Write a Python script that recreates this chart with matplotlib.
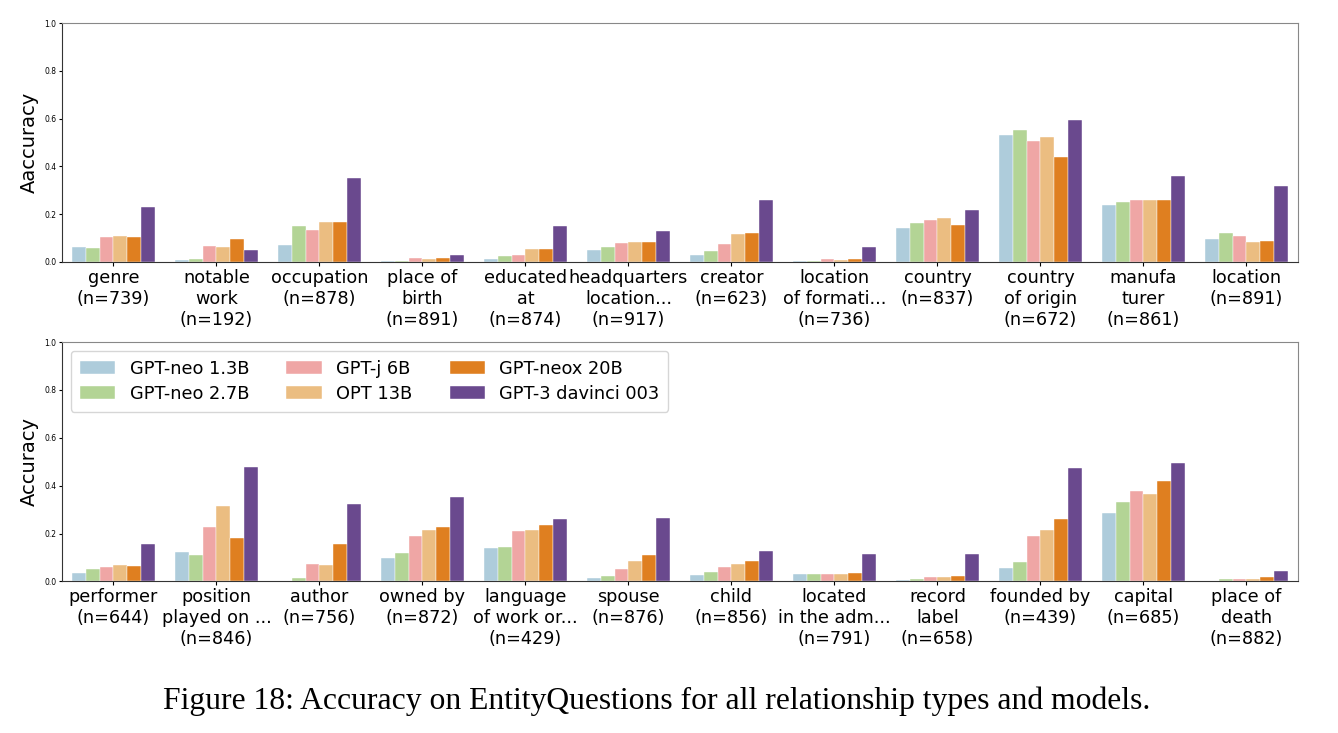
import matplotlib
matplotlib.use("Agg")
import matplotlib.pyplot as plt
import numpy as np
import seaborn as sns

models = ["GPT-neo 1.3B", "GPT-neo 2.7B", "GPT-j 6B", "OPT 13B", "GPT-neox 20B", "GPT-3 davinci 003"]

top_labels = ["genre\n(n=739)", "notable\nwork\n(n=192)", "occupation\n(n=878)", "place of\nbirth\n(n=891)",
              "educated\nat\n(n=874)", "headquarters\nlocation...\n(n=917)", "creator\n(n=623)",
              "location\nof formati...\n(n=736)", "country\n(n=837)", "country\nof origin\n(n=672)",
              "manufa\nturer\n(n=861)", "location\n(n=891)"]
bot_labels = ["performer\n(n=644)", "position\nplayed on ...\n(n=846)", "author\n(n=756)", "owned by\n(n=872)",
              "language\nof work or...\n(n=429)", "spouse\n(n=876)", "child\n(n=856)",
              "located\nin the adm...\n(n=791)", "record\nlabel\n(n=658)", "founded by\n(n=439)",
              "capital\n(n=685)", "place of\ndeath\n(n=882)"]

# one list per model, one value per relation
top_neo13 = [0.063, 0.008, 0.072, 0.002, 0.011, 0.049, 0.028, 0.003, 0.142, 0.533, 0.239, 0.096]
top_neo27 = [0.060, 0.013, 0.149, 0.005, 0.025, 0.061, 0.045, 0.006, 0.163, 0.552, 0.252, 0.120]
top_j6 = [0.103, 0.067, 0.134, 0.016, 0.029, 0.078, 0.075, 0.013, 0.175, 0.505, 0.259, 0.107]
top_opt13 = [0.108, 0.061, 0.167, 0.012, 0.053, 0.083, 0.118, 0.008, 0.184, 0.523, 0.261, 0.083]
top_neox20 = [0.106, 0.097, 0.167, 0.017, 0.054, 0.083, 0.120, 0.013, 0.154, 0.438, 0.259, 0.088]
top_davinci = [0.231, 0.050, 0.352, 0.031, 0.150, 0.129, 0.260, 0.064, 0.218, 0.595, 0.360, 0.318]

bot_neo13 = [0.036, 0.125, 0.004, 0.097, 0.138, 0.013, 0.028, 0.031, 0.007, 0.057, 0.287, 0.003]
bot_neo27 = [0.052, 0.109, 0.014, 0.121, 0.143, 0.025, 0.040, 0.033, 0.010, 0.082, 0.334, 0.011]
bot_j6 = [0.060, 0.227, 0.072, 0.192, 0.210, 0.054, 0.060, 0.033, 0.017, 0.192, 0.378, 0.010]
bot_opt13 = [0.067, 0.316, 0.067, 0.216, 0.213, 0.085, 0.071, 0.031, 0.019, 0.213, 0.364, 0.011]
bot_neox20 = [0.063, 0.180, 0.157, 0.227, 0.234, 0.111, 0.084, 0.036, 0.025, 0.260, 0.418, 0.017]
bot_davinci = [0.156, 0.480, 0.325, 0.352, 0.259, 0.267, 0.128, 0.116, 0.116, 0.476, 0.493, 0.043]

top_vals = [top_neo13, top_neo27, top_j6, top_opt13, top_neox20, top_davinci]
bot_vals = [bot_neo13, bot_neo27, bot_j6, bot_opt13, bot_neox20, bot_davinci]

paired = sns.color_palette("Paired", 10)
colors = [sns.desaturate(paired[i], 0.75) for i in [0, 2, 4, 6, 7, 9]]

fig = plt.figure(figsize=(13.38, 7.33), dpi=100)
ax_top = fig.add_axes([0.0463, 0.6426, 0.9237, 0.326])
ax_bot = fig.add_axes([0.0463, 0.2067, 0.9237, 0.3267])


def draw_panel(ax, vals, labels, ylabel):
    n = len(labels)
    x = np.arange(n)
    w = 0.8 / len(models)
    for i, (m, v) in enumerate(zip(models, vals)):
        ax.bar(x - 0.4 + w * (i + 0.5), v, width=w, color=colors[i], label=m,
               edgecolor="white", linewidth=0.3)
    ax.set_xlim(-0.5, n - 0.5)
    ax.set_ylim(0, 1.0)
    ax.set_yticks([0.0, 0.2, 0.4, 0.6, 0.8, 1.0])
    ax.set_yticklabels(["0.0", "0.2", "0.4", "0.6", "0.8", "1.0"])
    ax.tick_params(axis="y", labelsize=5.5, length=2.5, pad=1.5)
    ax.set_xticks(x)
    ax.set_xticklabels(labels, fontsize=12.7, linespacing=1.2)
    ax.tick_params(axis="x", length=3, pad=2)
    ax.set_ylabel(ylabel, fontsize=14, labelpad=4)
    for s in ["top", "right"]:
        ax.spines[s].set_color("#888888")
    for s in ["left", "bottom"]:
        ax.spines[s].set_color("#333333")


draw_panel(ax_top, top_vals, top_labels, "Aaccuracy")
draw_panel(ax_bot, bot_vals, bot_labels, "Accuracy")

ax_bot.legend(loc="upper left", ncol=3, fontsize=12.8, handlelength=2.0, handleheight=0.7,
              columnspacing=2.1, borderpad=0.5, labelspacing=0.4, bbox_to_anchor=(0.0, 1.0))

fig.text(0.491, 0.043, "Figure 18: Accuracy on EntityQuestions for all relationship types and models.",
         ha="center", va="center", fontsize=22.8, family="Liberation Serif")

fig.savefig("out.png", dpi=100)
